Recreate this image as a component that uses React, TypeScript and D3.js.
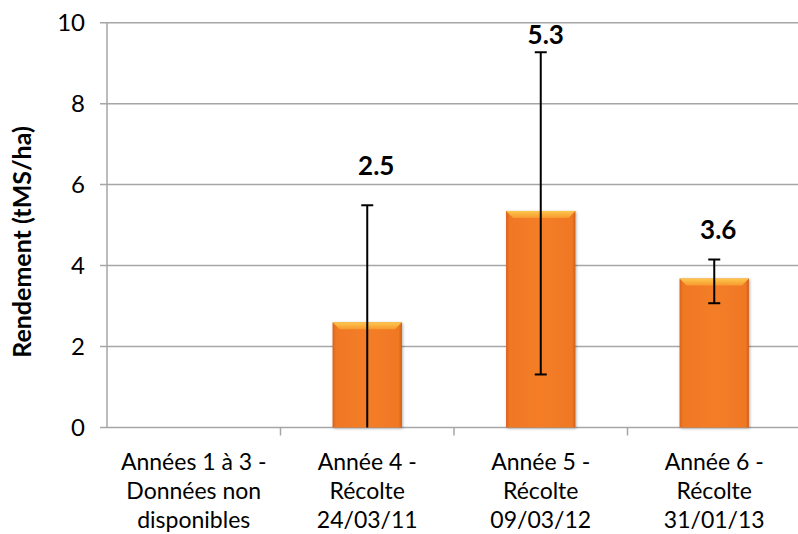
import React from "react";
import * as d3 from "d3";

const categories = [
  ["Années 1 à 3 -", "Données non", "disponibles"],
  ["Année 4 -", "Récolte", "24/03/11"],
  ["Année 5 -", "Récolte", "09/03/12"],
  ["Année 6 -", "Récolte", "31/01/13"],
];
const values: (number | null)[] = [null, 2.6, 5.35, 3.68];
const errLow: (number | null)[] = [null, 0, 1.31, 3.07];
const errHigh: (number | null)[] = [null, 5.49, 9.27, 4.15];
const dataLabels = ["", "2.5", "5.3", "3.6"];
const labelAt: (number | null)[] = [null, 6.23, 9.47, 4.65];
const labelShift = [0, 9, 5, 4];
const yTicks = [0, 2, 4, 6, 8, 10];
const yTitle = "Rendement (tMS/ha)";

const W = 798;
const H = 534;
const left = 107;
const right = 801;
const top = 22.7;
const bottom = 427.5;
const font = "Lato, 'Open Sans', sans-serif";

export default function App() {
  const x = d3
    .scaleBand<number>()
    .domain(categories.map((_, i) => i))
    .range([left, right])
    .paddingInner(0.6)
    .paddingOuter(0.3);
  const band = d3.scaleBand<number>().domain(categories.map((_, i) => i)).range([left, right]);
  const y = d3.scaleLinear().domain([0, 10]).range([bottom, top]);
  const bw = x.bandwidth();
  const grid = "#a6a6a6";

  return (
    <svg width={W} height={H} style={{ position: "absolute", left: 0, top: 0, background: "#fff" }}>
      <defs>
        <linearGradient id="barH" x1="0" x2="1" y1="0" y2="0">
          <stop offset="0" stopColor="#d8621b" />
          <stop offset="0.05" stopColor="#f07824" />
          <stop offset="0.5" stopColor="#f47d27" />
          <stop offset="0.95" stopColor="#f07824" />
          <stop offset="1" stopColor="#d0601a" />
        </linearGradient>
        <linearGradient id="bevel" x1="0" x2="0" y1="0" y2="1">
          <stop offset="0" stopColor="#fcc84e" />
          <stop offset="1" stopColor="#f8992f" />
        </linearGradient>
        <filter id="shadow" x="-20%" y="-10%" width="140%" height="120%">
          <feGaussianBlur in="SourceAlpha" stdDeviation="1.5" />
          <feOffset dx="1" dy="1" result="b" />
          <feComponentTransfer>
            <feFuncA type="linear" slope="0.3" />
          </feComponentTransfer>
          <feMerge>
            <feMergeNode />
            <feMergeNode in="SourceGraphic" />
          </feMerge>
        </filter>
      </defs>

      {/* gridlines */}
      {yTicks.map((t) => (
        <g key={t}>
          <line x1={left - 7} x2={W} y1={y(t)} y2={y(t)} stroke={grid} strokeWidth={1.5} />
          <text
            x={85}
            y={y(t)}
            dy="0.35em"
            textAnchor="end"
            fontFamily={font}
            fontSize={24}
            fill="#000"
          >
            {t}
          </text>
        </g>
      ))}
      {/* y axis */}
      <line x1={left} x2={left} y1={top} y2={bottom} stroke={grid} strokeWidth={1.5} />
      {/* x ticks */}
      {categories.map((_, i) =>
        i > 0 ? (
          <line
            key={i}
            x1={band(i)!}
            x2={band(i)!}
            y1={bottom}
            y2={bottom + 8}
            stroke={grid}
            strokeWidth={1.5}
          />
        ) : null
      )}

      {/* bars */}
      {values.map((v, i) => {
        if (v == null) return null;
        const bx = x(i)!;
        const by = y(v);
        const bh = bottom - by;
        const bev = 7;
        return (
          <g key={i} filter="url(#shadow)">
            <rect x={bx} y={by} width={bw} height={bh} fill="url(#barH)" />
            <polygon
              points={`${bx},${by} ${bx + bw},${by} ${bx + bw - bev},${by + bev} ${bx + bev},${by + bev}`}
              fill="url(#bevel)"
            />
          </g>
        );
      })}

      {/* error bars */}
      {values.map((v, i) => {
        if (v == null || errLow[i] == null || errHigh[i] == null) return null;
        const cx = x(i)! + bw / 2;
        const y1 = y(errHigh[i]!);
        const y2 = y(errLow[i]!);
        return (
          <g key={i} stroke="#000" strokeWidth={2}>
            <line x1={cx} x2={cx} y1={y1} y2={y2} />
            <line x1={cx - 6} x2={cx + 6} y1={y1} y2={y1} />
            {errLow[i]! > 0 && <line x1={cx - 6} x2={cx + 6} y1={y2} y2={y2} />}
          </g>
        );
      })}

      {/* data labels */}
      {values.map((v, i) =>
        v == null || labelAt[i] == null ? null : (
          <text
            key={i}
            x={x(i)! + bw / 2 + labelShift[i]}
            y={y(labelAt[i]!)}
            textAnchor="middle"
            fontFamily={font}
            fontWeight="bold"
            fontSize={26}
            fill="#000"
          >
            {dataLabels[i]}
          </text>
        )
      )}

      {/* category labels */}
      {categories.map((lines, i) => (
        <text
          key={i}
          x={band(i)! + band.bandwidth() / 2}
          textAnchor="middle"
          fontFamily={font}
          fontSize={23}
          fill="#000"
        >
          {lines.map((l, j) => (
            <tspan key={j} x={band(i)! + band.bandwidth() / 2} y={470 + j * 29}>
              {l}
            </tspan>
          ))}
        </text>
      ))}

      {/* y title */}
      <text
        transform={`translate(31,242) rotate(-90)`}
        textAnchor="middle"
        fontFamily={font}
        fontWeight="bold"
        fontSize={25}
        fill="#000"
      >
        {yTitle}
      </text>
    </svg>
  );
}
